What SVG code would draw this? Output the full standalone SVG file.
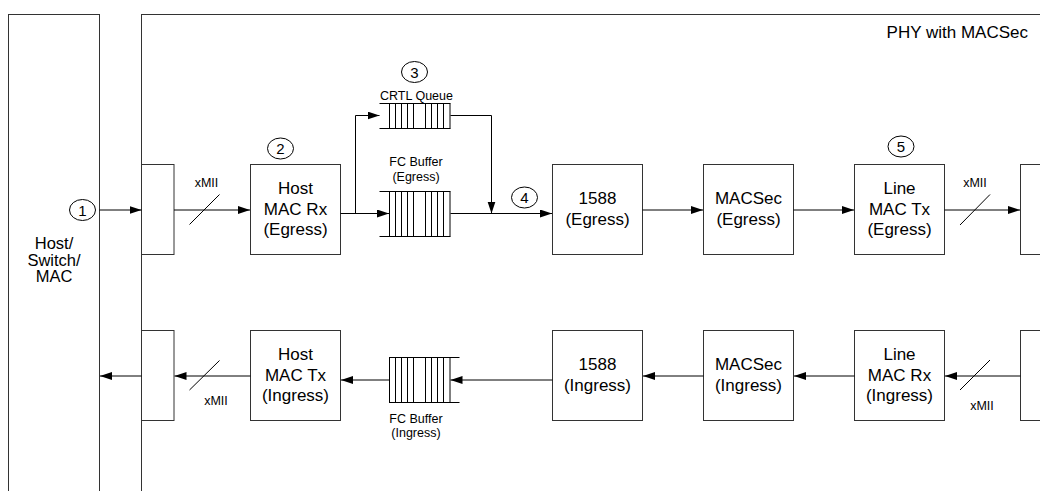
<svg xmlns="http://www.w3.org/2000/svg" width="1040" height="491" viewBox="0 0 1040 491">
<style>
.box{fill:#fff;stroke:#333;stroke-width:1}
.ln{fill:none;stroke:#000;stroke-width:1}
.t{font-family:"Liberation Sans",Arial,sans-serif;font-size:17px;fill:#000;text-anchor:middle}
.s{font-family:"Liberation Sans",Arial,sans-serif;font-size:12.5px;fill:#000;text-anchor:middle}
.n{font-family:"Liberation Sans",Arial,sans-serif;font-size:15px;fill:#000;text-anchor:middle}
.c{fill:#fff;stroke:#000;stroke-width:1}
.q{fill:none;stroke:#000;stroke-width:1}
</style>
<defs>
<marker id="ah" markerUnits="userSpaceOnUse" markerWidth="13" markerHeight="9" refX="12" refY="4" orient="auto">
<path d="M0,0 L12,4 L0,8 z" fill="#000"/>
</marker>
</defs>
<rect width="1040" height="491" fill="#fff"/>

<g id="host-switch-mac">
<rect class="box" x="8.5" y="14.5" width="91" height="490"/>
<text class="t" x="54" y="249" style="font-size:16.5px">Host/</text>
<text class="t" x="54" y="265.5" style="font-size:16.5px">Switch/</text>
<text class="t" x="54" y="282" style="font-size:16.5px">MAC</text>
</g>

<g id="phy">
<rect class="box" x="141.5" y="14.5" width="920" height="490"/>
<text class="t" x="1028" y="38" style="text-anchor:end">PHY with MACSec</text>
</g>

<g id="if-left-egress"><rect class="box" x="141.5" y="164.5" width="32.5" height="90"/></g>
<g id="if-left-ingress"><rect class="box" x="141.5" y="330.5" width="32.5" height="90"/></g>
<g id="if-right-egress"><rect class="box" x="1020.5" y="164.5" width="40" height="90"/></g>
<g id="if-right-ingress"><rect class="box" x="1020.5" y="330.5" width="40" height="90"/></g>

<g id="host-mac-rx">
<rect class="box" x="250.5" y="164.5" width="90" height="90"/>
<text class="t" x="295.5" y="194">Host</text>
<text class="t" x="295.5" y="215">MAC Rx</text>
<text class="t" x="295.5" y="234.5">(Egress)</text>
</g>
<g id="p1588-egress">
<rect class="box" x="552.5" y="164.5" width="90" height="90"/>
<text class="t" x="597.5" y="204">1588</text>
<text class="t" x="597.5" y="224.5">(Egress)</text>
</g>
<g id="macsec-egress">
<rect class="box" x="703.5" y="164.5" width="90" height="90"/>
<text class="t" x="748.5" y="204">MACSec</text>
<text class="t" x="748.5" y="224.5">(Egress)</text>
</g>
<g id="line-mac-tx">
<rect class="box" x="854.5" y="164.5" width="90" height="90"/>
<text class="t" x="899.5" y="194">Line</text>
<text class="t" x="899.5" y="215">MAC Tx</text>
<text class="t" x="899.5" y="234.5">(Egress)</text>
</g>

<g id="host-mac-tx">
<rect class="box" x="250.5" y="330.5" width="90" height="90"/>
<text class="t" x="295.5" y="360">Host</text>
<text class="t" x="295.5" y="381">MAC Tx</text>
<text class="t" x="295.5" y="400.5">(Ingress)</text>
</g>
<g id="p1588-ingress">
<rect class="box" x="552.5" y="330.5" width="90" height="90"/>
<text class="t" x="597.5" y="370">1588</text>
<text class="t" x="597.5" y="390.5">(Ingress)</text>
</g>
<g id="macsec-ingress">
<rect class="box" x="703.5" y="330.5" width="90" height="90"/>
<text class="t" x="748.5" y="370">MACSec</text>
<text class="t" x="748.5" y="390.5">(Ingress)</text>
</g>
<g id="line-mac-rx">
<rect class="box" x="854.5" y="330.5" width="90" height="90"/>
<text class="t" x="899.5" y="360">Line</text>
<text class="t" x="899.5" y="381">MAC Rx</text>
<text class="t" x="899.5" y="400.5">(Ingress)</text>
</g>

<g id="crtl-queue">
<path class="q" d="M379.5,103.5 H450.5 M379.5,128.5 H450.5 M389.5,103.5 V128.5 M395.5,103.5 V128.5 M401.5,103.5 V128.5 M407.5,103.5 V128.5 M413.5,103.5 V128.5 M425.5,103.5 V128.5 M431.5,103.5 V128.5 M437.5,103.5 V128.5 M443.5,103.5 V128.5 M450,103.5 V128.5"/>
<text class="s" x="416.5" y="100">CRTL Queue</text>
</g>
<g id="fc-buffer-egress">
<path class="q" d="M379.5,191.5 H450.5 M379.5,236.5 H450.5 M389.5,191.5 V236.5 M395.5,191.5 V236.5 M401.5,191.5 V236.5 M407.5,191.5 V236.5 M413.5,191.5 V236.5 M425.5,191.5 V236.5 M431.5,191.5 V236.5 M437.5,191.5 V236.5 M443.5,191.5 V236.5 M450,191.5 V236.5"/>
<text class="s" x="416" y="166">FC Buffer</text>
<text class="s" x="416" y="181">(Egress)</text>
</g>
<g id="fc-buffer-ingress">
<path class="q" d="M389,357.5 H459.5 M389,402.5 H459.5 M389.5,357.5 V402.5 M395.5,357.5 V402.5 M401.5,357.5 V402.5 M407.5,357.5 V402.5 M413.5,357.5 V402.5 M425.5,357.5 V402.5 M431.5,357.5 V402.5 M437.5,357.5 V402.5 M443.5,357.5 V402.5 M450,357.5 V402.5"/>
<text class="s" x="416" y="422.5">FC Buffer</text>
<text class="s" x="416" y="437">(Ingress)</text>
</g>

<g id="markers">
<ellipse class="c" cx="82.5" cy="210" rx="13" ry="10.5"/><text class="n" x="82.5" y="215.5">1</text>
<ellipse class="c" cx="280.5" cy="148.5" rx="13" ry="10.5"/><text class="n" x="280.5" y="154">2</text>
<ellipse class="c" cx="414.5" cy="72" rx="13" ry="10.5"/><text class="n" x="414.5" y="77.5">3</text>
<ellipse class="c" cx="524.5" cy="197.5" rx="13" ry="10.5"/><text class="n" x="524.5" y="203">4</text>
<ellipse class="c" cx="901" cy="146.5" rx="13" ry="10.5"/><text class="n" x="901" y="152">5</text>
</g>

<g id="connectors">
<path class="ln" d="M99.5,210 H141.5" marker-end="url(#ah)"/>
<path class="ln" d="M174,210 H250" marker-end="url(#ah)"/>
<path class="ln" d="M340.5,213.5 H389" marker-end="url(#ah)"/>
<path class="ln" d="M355.5,213.5 V115.5 H379.5" marker-end="url(#ah)"/>
<path class="ln" d="M450.5,115.5 H491.5 V213.5" marker-end="url(#ah)"/>
<path class="ln" d="M450.5,213.5 H552" marker-end="url(#ah)"/>
<path class="ln" d="M642.5,210 H703" marker-end="url(#ah)"/>
<path class="ln" d="M793.5,210 H854" marker-end="url(#ah)"/>
<path class="ln" d="M944.5,210 H1020" marker-end="url(#ah)"/>
<path class="ln" d="M1020.5,376 H945" marker-end="url(#ah)"/>
<path class="ln" d="M854.5,376 H794" marker-end="url(#ah)"/>
<path class="ln" d="M703.5,376 H643" marker-end="url(#ah)"/>
<path class="ln" d="M552.5,380 H450.5" marker-end="url(#ah)"/>
<path class="ln" d="M389,380 H341" marker-end="url(#ah)"/>
<path class="ln" d="M250.5,376 H174.5" marker-end="url(#ah)"/>
<path class="ln" d="M141.5,376 H100" marker-end="url(#ah)"/>
<path class="ln" d="M189.5,224.5 L219.5,194.5 M960,225 L990,194.5 M189.5,390 L219.5,360.5 M960,390 L990,360"/>
<text class="s" x="206.5" y="187">xMII</text>
<text class="s" x="975" y="187">xMII</text>
<text class="s" x="216" y="404.5">xMII</text>
<text class="s" x="982" y="409.5">xMII</text>
</g>
</svg>
